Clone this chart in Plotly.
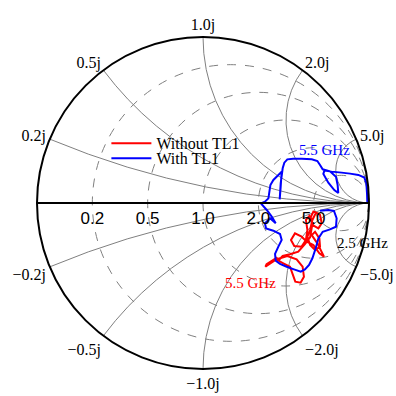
import numpy as np
import plotly.graph_objects as go

without_re = [0.689, 0.665, 0.649, 0.661, 0.695, 0.715, 0.705, 0.681, 0.659, 0.645,
              0.629, 0.645, 0.675, 0.705, 0.701, 0.675, 0.655, 0.689, 0.729, 0.701,
              0.665, 0.625, 0.594, 0.554, 0.530, 0.550, 0.594, 0.620, 0.629, 0.620,
              0.641, 0.659, 0.645, 0.614, 0.574, 0.524, 0.480, 0.454, 0.484, 0.524,
              0.540, 0.556, 0.588, 0.608, 0.600, 0.564, 0.508, 0.444, 0.376, 0.383,
              0.448]
without_im = [-0.062, -0.052, -0.086, -0.133, -0.153, -0.122, -0.072, -0.058, -0.102, -0.163,
              -0.203, -0.253, -0.283, -0.263, -0.213, -0.173, -0.193, -0.243, -0.323, -0.303,
              -0.253, -0.233, -0.203, -0.183, -0.223, -0.259, -0.263, -0.223, -0.163, -0.102,
              -0.078, -0.127, -0.207, -0.247, -0.293, -0.309, -0.319, -0.347, -0.363, -0.384,
              -0.428, -0.474, -0.480, -0.444, -0.384, -0.339, -0.319, -0.339, -0.384, -0.369,
              -0.327]

with_re = [0.990, 0.988, 0.984, 0.972, 0.936, 0.886, 0.835, 0.775, 0.731, 0.725,
           0.755, 0.791, 0.815, 0.811, 0.801, 0.765, 0.721, 0.705, 0.689, 0.655,
           0.595, 0.544, 0.508, 0.490, 0.480, 0.468, 0.462, 0.468, 0.474, 0.454,
           0.424, 0.406, 0.400, 0.394, 0.373, 0.349, 0.384, 0.414, 0.438, 0.404,
           0.373, 0.380, 0.424, 0.464, 0.474, 0.454, 0.434, 0.438, 0.464, 0.504,
           0.548, 0.589, 0.614, 0.639, 0.659, 0.679, 0.695, 0.721, 0.765, 0.801,
           0.805, 0.789, 0.755, 0.705]
with_im = [0.002, 0.058, 0.119, 0.153, 0.169, 0.177, 0.183, 0.189, 0.195, 0.175,
           0.122, 0.078, 0.060, 0.108, 0.158, 0.191, 0.203, 0.229, 0.253, 0.263,
           0.267, 0.267, 0.263, 0.243, 0.209, 0.119, 0.022, 0.098, 0.189, 0.169,
           0.139, 0.108, 0.068, 0.028, 0.008, -0.002, -0.042, -0.082, -0.122, -0.092,
           -0.122, -0.153, -0.167, -0.187, -0.223, -0.263, -0.307, -0.348, -0.367, -0.384,
           -0.400, -0.414, -0.400, -0.373, -0.333, -0.273, -0.213, -0.173, -0.159, -0.143,
           -0.092, -0.048, -0.042, -0.046]

real_ticks = [0.2, 0.5, 1.0, 2.0, 5.0]
imag_ticks = [-5.0, -2.0, -1.0, -0.5, -0.2, 0.2, 0.5, 1.0, 2.0, 5.0]


def to_z(re, im):
    g = np.array(re) + 1j * np.array(im)
    z = (1 + g) / (1 - g)
    return z.real, z.imag


serif = "Liberation Serif, Times New Roman, serif"
sans = "Liberation Sans, Arial, sans-serif"

fig = go.Figure()
zr, zi = to_z(without_re, without_im)
fig.add_trace(go.Scattersmith(real=zr, imag=zi, mode="lines",
                              line=dict(color="red", width=2), name="Without TL1",
                              legend="legend"))
zr, zi = to_z(with_re, with_im)
fig.add_trace(go.Scattersmith(real=zr, imag=zi, mode="lines",
                              line=dict(color="blue", width=2), name="With TL1",
                              legend="legend2"))

fig.update_layout(
    width=396, height=396,
    margin=dict(l=37, r=27, t=37, b=27),
    paper_bgcolor="white",
    font=dict(family=serif, size=15, color="black"),
    smith=dict(
        bgcolor="white",
        domain=dict(x=[0, 1], y=[0, 1]),
        realaxis=dict(gridcolor="gray", griddash="dash", gridwidth=1,
                      linecolor="black", linewidth=2, showline=True,
                      tickvals=real_ticks, tickformat=".1f", ticks="",
                      side="bottom", tickangle=0,
                      tickfont=dict(family=sans, size=17, color="black")),
        imaginaryaxis=dict(gridcolor="gray", gridwidth=1,
                           linecolor="black", linewidth=2, showline=True,
                           tickvals=imag_ticks, tickformat=".1f", ticksuffix="j",
                           ticks="",
                           tickfont=dict(family=serif, size=16, color="black")),
    ),
    showlegend=True,
    legend=dict(x=0.209, y=0.731, xanchor="left", yanchor="top", itemwidth=40,
                bgcolor="rgba(0,0,0,0)", font=dict(family=serif, size=16)),
    legend2=dict(x=0.209, y=0.686, xanchor="left", yanchor="top", itemwidth=40,
                 bgcolor="rgba(0,0,0,0)", font=dict(family=serif, size=16)),
    shapes=[
        dict(type="rect", xref="paper", yref="paper", x0=1.012, x1=1.12,
             y0=0.47, y1=0.53, fillcolor="white", line=dict(width=0), layer="above"),
    ],
    annotations=[
        dict(text="5.5 GHz", x=0.867, y=0.660, xref="paper", yref="paper",
             xanchor="center", yanchor="middle", showarrow=False,
             font=dict(color="blue", size=15, family=serif)),
        dict(text="5.5 GHz", x=0.642, y=0.259, xref="paper", yref="paper",
             xanchor="center", yanchor="middle", showarrow=False,
             font=dict(color="red", size=15, family=serif)),
        dict(text="2.5 GHz", x=0.979, y=0.380, xref="paper", yref="paper",
             xanchor="center", yanchor="middle", showarrow=False,
             font=dict(color="black", size=15, family=serif)),
    ],
)

fig.write_html("out.html", config={"displayModeBar": False},
               post_script="document.body.style.margin='0px';")
